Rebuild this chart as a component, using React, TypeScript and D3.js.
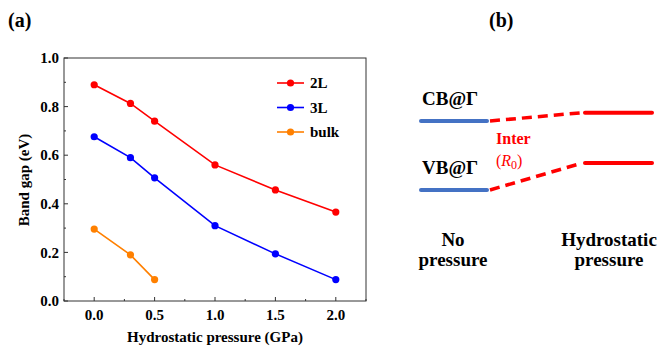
import * as d3 from 'd3';

const PRESSURE = [0, 0.3, 0.5, 1.0, 1.5, 2.0];
const GAP_2L = [0.89, 0.813, 0.74, 0.56, 0.457, 0.366];
const GAP_3L = [0.676, 0.59, 0.507, 0.31, 0.194, 0.088];
const GAP_BULK = [0.296, 0.19, 0.088];

const SERIES = [
  { name: '2L', color: '#ff0000', values: GAP_2L },
  { name: '3L', color: '#0000ff', values: GAP_3L },
  { name: 'bulk', color: '#ff8000', values: GAP_BULK },
];

const X_TICKS = [0, 0.5, 1.0, 1.5, 2.0];
const X_MINOR = [-0.25, 0.25, 0.75, 1.25, 1.75, 2.25];
const Y_TICKS = [0, 0.2, 0.4, 0.6, 0.8, 1.0];
const Y_MINOR = [0.1, 0.3, 0.5, 0.7, 0.9];

// schematic levels for panel (b): energies before / after pressure (arbitrary units)
const LEVELS = [
  { label: 'CB@Γ', before: 1.0, after: 1.12 },
  { label: 'VB@Γ', before: 0.0, after: 0.39 },
];

const FONT = 'Liberation Serif';
const BLUE = '#4472c4';
const RED = '#ff0000';

const T = (size: number, bold = true) => ({ fontFamily: FONT, fontSize: size, fontWeight: bold ? 700 : 400 });

export default function App() {
  const x = d3.scaleLinear().domain([-0.25, 2.25]).range([64, 366]);
  const y = d3.scaleLinear().domain([0, 1]).range([301, 58]);
  const fmt = d3.format('.1f');
  const line = d3.line<[number, number]>().x(d => x(d[0])).y(d => y(d[1]));
  const ey = d3.scaleLinear().domain([0, 1]).range([190, 121]);

  return (
    <>
      <style>{'body{margin:0}'}</style>
      <svg width={663} height={346} fontFamily={FONT} style={{ display: 'block', fontFamily: FONT }}>
        {/* panel (a) */}
        <text x={8} y={27} style={T(20)}>(a)</text>
        <rect x={64} y={58} width={302} height={243} fill="none" stroke="#333" strokeWidth={1} />
        {X_TICKS.map(t => (
          <g key={`x${t}`}>
            <line x1={x(t)} x2={x(t)} y1={301} y2={297} stroke="#333" />
            <text x={x(t)} y={320} textAnchor="middle" style={T(15)}>{fmt(t)}</text>
          </g>
        ))}
        {X_MINOR.map(t => <line key={`xm${t}`} x1={x(t)} x2={x(t)} y1={301} y2={299} stroke="#333" />)}
        {Y_TICKS.map(t => (
          <g key={`y${t}`}>
            <line x1={64} x2={68} y1={y(t)} y2={y(t)} stroke="#333" />
            <text x={59} y={y(t)} dy="0.35em" textAnchor="end" style={T(15)}>{fmt(t)}</text>
          </g>
        ))}
        {Y_MINOR.map(t => <line key={`ym${t}`} x1={64} x2={66} y1={y(t)} y2={y(t)} stroke="#333" />)}
        <text x={215} y={342} textAnchor="middle" style={T(15)}>Hydrostatic pressure (GPa)</text>
        <text transform="translate(29,180) rotate(-90)" textAnchor="middle" style={T(15)}>Band gap (eV)</text>

        {SERIES.map(s => {
          const pts = s.values.map((v, i) => [PRESSURE[i], v] as [number, number]);
          return (
            <g key={s.name}>
              <path d={line(pts) ?? ''} fill="none" stroke={s.color} strokeWidth={1.6} />
              {pts.map(p => <circle key={p[0]} cx={x(p[0])} cy={y(p[1])} r={3.6} fill={s.color} />)}
            </g>
          );
        })}

        {SERIES.map((s, i) => {
          const ly = 83 + i * 24.5;
          return (
            <g key={`lg${s.name}`}>
              <line x1={277} x2={304} y1={ly} y2={ly} stroke={s.color} strokeWidth={1.6} />
              <circle cx={290.5} cy={ly} r={3.6} fill={s.color} />
              <text x={310} y={ly} dy="0.35em" style={T(15)}>{s.name}</text>
            </g>
          );
        })}

        {/* panel (b) */}
        <text x={489} y={27} style={T(20)}>(b)</text>
        {LEVELS.map(l => (
          <g key={l.label}>
            <line x1={421} x2={487} y1={ey(l.before)} y2={ey(l.before)} stroke={BLUE} strokeWidth={4} strokeLinecap="round" />
            <line x1={490} x2={582} y1={ey(l.before)} y2={ey(l.after)} stroke={RED} strokeWidth={3.5} strokeDasharray="10 6" />
            <line x1={585} x2={652} y1={ey(l.after)} y2={ey(l.after)} stroke={RED} strokeWidth={4} strokeLinecap="round" />
            <text x={422} y={ey(l.before) - 16} style={T(19)}>{l.label}</text>
          </g>
        ))}
        <text x={496} y={144} fill={RED} style={T(16)}>Inter</text>
        <text x={496} y={166} fill={RED} style={T(16, false)}>
          (<tspan fontStyle="italic">R</tspan>
          <tspan fontSize={12} dy={3}>0</tspan>
          <tspan dy={-3}>)</tspan>
        </text>
        {[{ x: 453, lines: ['No', 'pressure'] }, { x: 609, lines: ['Hydrostatic', 'pressure'] }].map(lb =>
          lb.lines.map((t, i) => (
            <text key={`${lb.x}${i}`} x={lb.x} y={246 + i * 20} textAnchor="middle" style={T(19)}>{t}</text>
          ))
        )}
      </svg>
    </>
  );
}
